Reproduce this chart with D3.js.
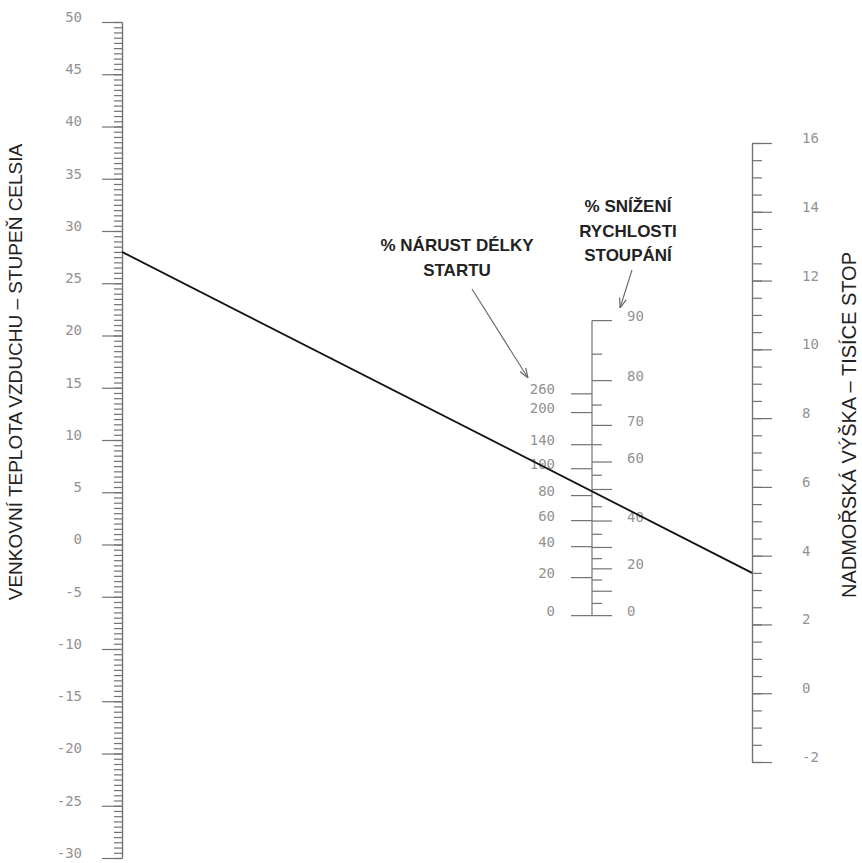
<!DOCTYPE html>
<html>
<head>
<meta charset="utf-8">
<script src="https://d3js.org/d3.v7.min.js"></script>
<style>
  body { margin: 0; background: #fff; }
  .scale text { font-family: "DejaVu Sans Mono", monospace; font-size: 14px; fill: #929292; }
  .scale line, .scale path { stroke: #727272; stroke-width: 1.2; }
  .title { font-family: "Liberation Sans", Arial, sans-serif; fill: #222; }
  .note { font-family: "Liberation Sans", Arial, sans-serif; font-size: 17px; font-weight: bold; fill: #222; }
</style>
</head>
<body>
<div id="chart"></div>
<script>
// outdoor air temperature (deg C) and pressure altitude (thousand ft)
const tempLabels = [-30, -25, -20, -15, -10, -5, 0, 5, 10, 15, 20, 25, 30, 35, 40, 45, 50];
const altLabels = [-2, 0, 2, 4, 6, 8, 10, 12, 14, 16];

// middle scale: climb rate reduction %, placed by density altitude (thousand ft)
const climbTicks = [0, 5, 10, 15, 20, 25, 30, 35, 40, 45, 50, 55, 60, 65, 70, 75, 80, 85, 90];
const climbDA = [0, 0.6, 1.2, 1.75, 2.3, 2.8, 3.35, 4.0, 4.65, 5.35, 6.2, 6.9, 7.55, 8.4, 9.35, 10.35, 11.55, 12.85, 14.5];
const climbLabels = [0, 20, 40, 60, 70, 80, 90];

// middle scale: takeoff distance increase %
const takeoffTicks = [0, 20, 40, 60, 80, 100, 140, 200, 260];
const takeoffDA = [0, 1.87, 3.39, 4.67, 5.9, 7.22, 8.4, 9.98, 10.9];

// example reading drawn across the chart
const exampleTemp = 28;
const exampleAlt = 3.5;

const width = 862;
const height = 863;
const xLeft = 122, xMid = 592, xRight = 752;

const svg = d3.select("#chart")
    .append("svg")
    .attr("width", width)
    .attr("height", height);

const yTemp = d3.scaleLinear().domain([-30, 50]).range([858, 22]);
const yAlt = d3.scaleLinear().domain([-2, 16]).range([762, 143]);

// density altitude on the middle line: standard atmosphere point between the two outer scales
const frac = (xMid - xLeft) / (xRight - xLeft);
function midY(da) { return (1 - frac) * yTemp(15 - 2 * da) + frac * yAlt(da); }
const yDens = d3.scaleLinear().domain([0, 10]).range([midY(0), midY(10)]);

function plain(g) {
    g.attr("class", "scale");
    g.selectAll(".domain").attr("stroke", "#727272");
    // numbers sit a little above their tick
    g.selectAll("text").attr("y", -5);
}

// left: temperature
svg.append("g")
    .attr("transform", `translate(${xLeft},0)`)
    .call(d3.axisLeft(yTemp).tickValues(d3.range(-30, 50.01, 0.5)).tickSize(8).tickSizeOuter(0).tickFormat(""))
    .call(plain);
svg.append("g")
    .attr("transform", `translate(${xLeft},0)`)
    .call(d3.axisLeft(yTemp).tickValues(tempLabels).tickSize(20).tickSizeOuter(0).tickPadding(20).tickFormat(d => d))
    .call(plain);

// right: altitude
svg.append("g")
    .attr("transform", `translate(${xRight},0)`)
    .call(d3.axisRight(yAlt).tickValues(d3.range(-2, 16.01, 0.5)).tickSize(10).tickSizeOuter(0).tickFormat(""))
    .call(plain);
svg.append("g")
    .attr("transform", `translate(${xRight},0)`)
    .call(d3.axisRight(yAlt).tickValues(altLabels).tickSize(20).tickSizeOuter(0).tickPadding(30).tickFormat(d => d))
    .call(plain);

// middle line
const mid = svg.append("g").attr("class", "scale");
mid.append("line")
    .attr("x1", xMid).attr("x2", xMid)
    .attr("y1", yDens(d3.min(climbDA))).attr("y2", yDens(d3.max(climbDA)));

// climb ticks to the right
mid.selectAll(".climb")
    .data(climbTicks)
    .join("line")
    .attr("class", "climb")
    .attr("x1", xMid)
    .attr("x2", d => xMid + (d % 10 === 0 ? 20 : 10))
    .attr("y1", (d, i) => yDens(climbDA[i]))
    .attr("y2", (d, i) => yDens(climbDA[i]));
mid.selectAll(".climbLab")
    .data(climbLabels)
    .join("text")
    .attr("x", xMid + 35)
    .attr("y", d => yDens(climbDA[climbTicks.indexOf(d)]) - 4)
    .attr("dy", "0.32em")
    .text(d => d);

// takeoff ticks to the left
mid.selectAll(".take")
    .data(takeoffTicks)
    .join("line")
    .attr("x1", xMid)
    .attr("x2", xMid - 21)
    .attr("y1", (d, i) => yDens(takeoffDA[i]))
    .attr("y2", (d, i) => yDens(takeoffDA[i]));
mid.selectAll(".takeLab")
    .data(takeoffTicks)
    .join("text")
    .attr("x", xMid - 37)
    .attr("y", (d, i) => yDens(takeoffDA[i]) - 4)
    .attr("dy", "0.32em")
    .attr("text-anchor", "end")
    .text(d => d);

// example line
svg.append("line")
    .attr("x1", xLeft).attr("y1", yTemp(exampleTemp))
    .attr("x2", xRight).attr("y2", yAlt(exampleAlt))
    .attr("stroke", "#111")
    .attr("stroke-width", 1.8);

// axis titles
svg.append("text")
    .attr("class", "title")
    .attr("transform", "translate(22,372) rotate(-90)")
    .attr("text-anchor", "middle")
    .style("font-size", "19px")
    .text("VENKOVNÍ TEPLOTA VZDUCHU – STUPEŇ CELSIA");
svg.append("text")
    .attr("class", "title")
    .attr("transform", "translate(856,425) rotate(-90)")
    .attr("text-anchor", "middle")
    .style("font-size", "20px")
    .text("NADMOŘSKÁ VÝŠKA – TISÍCE STOP");

// scale notes with arrows
svg.append("defs").append("marker")
    .attr("id", "arrow")
    .attr("viewBox", "0 0 10 10")
    .attr("refX", 10).attr("refY", 5)
    .attr("markerWidth", 9).attr("markerHeight", 9)
    .attr("orient", "auto")
    .append("path")
    .attr("d", "M0,1.5L10,5L0,8.5")
    .attr("fill", "none")
    .attr("stroke", "#666")
    .attr("stroke-width", 1.2);

const notes = [
    { lines: ["% NÁRUST DÉLKY", "STARTU"], x: 457, y: 251, from: [472, 289], to: [528, 378] },
    { lines: ["% SNÍŽENÍ", "RYCHLOSTI", "STOUPÁNÍ"], x: 628, y: 212, from: [632, 270], to: [620, 308] }
];
notes.forEach(n => {
    svg.append("text")
        .attr("class", "note")
        .attr("text-anchor", "middle")
        .selectAll("tspan")
        .data(n.lines)
        .join("tspan")
        .attr("x", n.x)
        .attr("y", (d, i) => n.y + i * 24.5)
        .text(d => d);
    svg.append("line")
        .attr("x1", n.from[0]).attr("y1", n.from[1])
        .attr("x2", n.to[0]).attr("y2", n.to[1])
        .attr("stroke", "#666")
        .attr("stroke-width", 1.1)
        .attr("marker-end", "url(#arrow)");
});
</script>
</body>
</html>
